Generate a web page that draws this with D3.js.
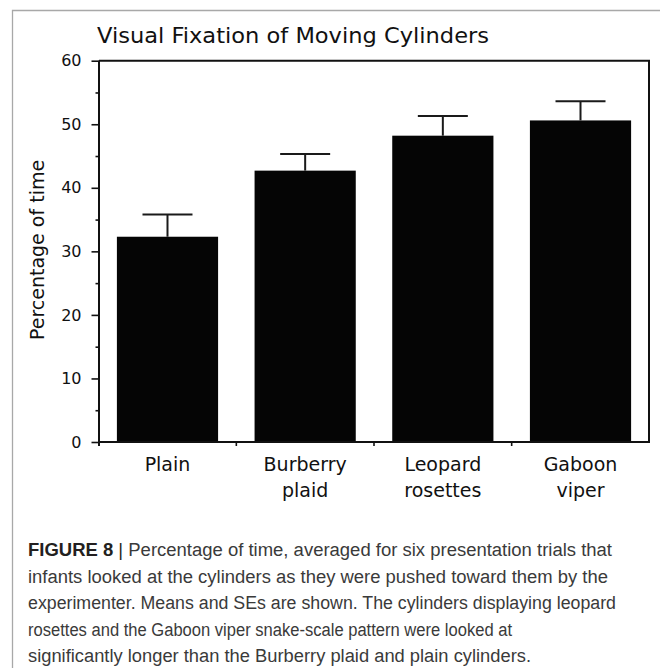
<!DOCTYPE html>
<html>
<head>
<meta charset="utf-8">
<script src="https://cdn.jsdelivr.net/npm/d3@7/dist/d3.min.js"></script>
<style>
  html, body { margin: 0; padding: 0; background: #fff; }
  svg { display: block; }
</style>
</head>
<body>
<script>
// ---- data ----
const categories = ["Plain", "Burberry plaid", "Leopard rosettes", "Gaboon viper"];
const categoryLines = [["Plain"], ["Burberry", "plaid"], ["Leopard", "rosettes"], ["Gaboon", "viper"]];
const means = [32.3, 42.7, 48.2, 50.6];
const standardErrors = [3.5, 2.6, 3.1, 3.0];
const majorTicks = [0, 10, 20, 30, 40, 50, 60];
const minorTicks = [5, 15, 25, 35, 45, 55];
const titleText = "Visual Fixation of Moving Cylinders";
const yLabel = "Percentage of time";
const captionLines = [
  ["FIGURE 8", "Percentage of time, averaged for six presentation trials that"],
  [null, "infants looked at the cylinders as they were pushed toward them by the"],
  [null, "experimenter. Means and SEs are shown. The cylinders displaying leopard"],
  [null, "rosettes and the Gaboon viper snake-scale pattern were looked at"],
  [null, "significantly longer than the Burberry plaid and plain cylinders."]
];
const captionWidths = [584, 580, 588, 484, 503];

// ---- layout ----
const W = 660, H = 668;
const svg = d3.select("body").append("svg").attr("width", W).attr("height", H);
const chartFont = "'DejaVu Sans', Verdana, sans-serif";

// outer frame (top & left visible)
svg.append("path")
  .attr("d", `M12.5,${H} L12.5,10.5 L${W},10.5`)
  .attr("fill", "none").attr("stroke", "#a8a8a8").attr("stroke-width", 1.3);

const x0 = 99, x1 = 649, yTop = 60.7, yBot = 442;
const x = d3.scaleBand().domain(categories).range([x0, x1])
  .paddingInner(0.265).paddingOuter(0.13);
const y = d3.scaleLinear().domain([0, 60]).range([yBot, yTop]);

// bars
svg.append("g").selectAll("rect").data(categories).join("rect")
  .attr("x", d => x(d))
  .attr("y", (d, i) => y(means[i]))
  .attr("width", x.bandwidth())
  .attr("height", (d, i) => y(0) - y(means[i]))
  .attr("fill", "#050505");

// error bars
const eb = svg.append("g").attr("stroke", "#1a1a1a").attr("stroke-width", 2).attr("fill", "none");
categories.forEach((c, i) => {
  const cx = x(c) + x.bandwidth() / 2;
  eb.append("line").attr("x1", cx).attr("x2", cx)
    .attr("y1", y(means[i])).attr("y2", y(means[i] + standardErrors[i]));
  eb.append("line").attr("x1", cx - 25).attr("x2", cx + 25)
    .attr("y1", y(means[i] + standardErrors[i])).attr("y2", y(means[i] + standardErrors[i]));
});

// y axis (major)
const yAxis = svg.append("g").attr("transform", `translate(${x0},0)`)
  .call(d3.axisLeft(y).tickValues(majorTicks).tickSize(7.5).tickPadding(10).tickFormat(d3.format("d")));
yAxis.select(".domain").attr("stroke", "#111").attr("stroke-width", 2).attr("d", `M0,${yTop}V${yBot + 4}`);
yAxis.selectAll(".tick line").attr("stroke", "#111").attr("stroke-width", 1.6);
yAxis.selectAll(".tick text").attr("font-family", chartFont).attr("font-size", 16).attr("fill", "#111");

// y axis (minor)
const yMinor = svg.append("g").attr("transform", `translate(${x0},0)`)
  .call(d3.axisLeft(y).tickValues(minorTicks).tickSize(3.5).tickFormat(""));
yMinor.select(".domain").remove();
yMinor.selectAll(".tick line").attr("stroke", "#111").attr("stroke-width", 1.6);

// x axis line, box top & right
const boxG = svg.append("g").attr("fill", "none").attr("stroke", "#111").attr("stroke-width", 2);
boxG.append("path").attr("d", `M${x0},${yBot}H${x1}V${yTop}H${x0}`);
const step = x.step();
const boundaries = categories.map(c => x(c) - step * x.paddingInner() / 2).slice(1);
boundaries.forEach(bx => {
  boxG.append("line").attr("x1", bx).attr("x2", bx).attr("y1", yBot).attr("y2", yBot + 4)
    .attr("stroke-width", 1.6);
});

// category labels
const catG = svg.append("g").attr("font-family", chartFont).attr("font-size", 19)
  .attr("fill", "#111").attr("text-anchor", "middle");
categories.forEach((c, i) => {
  const t = catG.append("text").attr("x", x(c) + x.bandwidth() / 2).attr("y", 471);
  categoryLines[i].forEach((ln, j) => {
    t.append("tspan").attr("x", x(c) + x.bandwidth() / 2).attr("dy", j === 0 ? 0 : 25.5).text(ln);
  });
});

// title
svg.append("text").attr("x", 97).attr("y", 43.3)
  .attr("font-family", chartFont).attr("font-size", 22).attr("fill", "#111")
  .attr("textLength", 392).attr("lengthAdjust", "spacingAndGlyphs")
  .text(titleText);

// y label
svg.append("text")
  .attr("transform", "translate(43.5,250) rotate(-90)")
  .attr("text-anchor", "middle")
  .attr("font-family", chartFont).attr("font-size", 19).attr("fill", "#111")
  .text(yLabel);

// caption
const capFont = "'Liberation Sans', Arial, Helvetica, sans-serif";
captionLines.forEach((ln, i) => {
  const t = svg.append("text").attr("x", 28).attr("y", 556 + i * 26.5)
    .attr("font-family", capFont).attr("font-size", 18).attr("fill", "#3a3a3a")
    .attr("textLength", captionWidths[i]).attr("lengthAdjust", "spacingAndGlyphs");
  if (ln[0]) {
    t.append("tspan").attr("font-weight", "bold").attr("fill", "#231f20").text(ln[0]);
    t.append("tspan").attr("fill", "#231f20").text(" | ");
  }
  t.append("tspan").text(ln[1]);
});
</script>
</body>
</html>
